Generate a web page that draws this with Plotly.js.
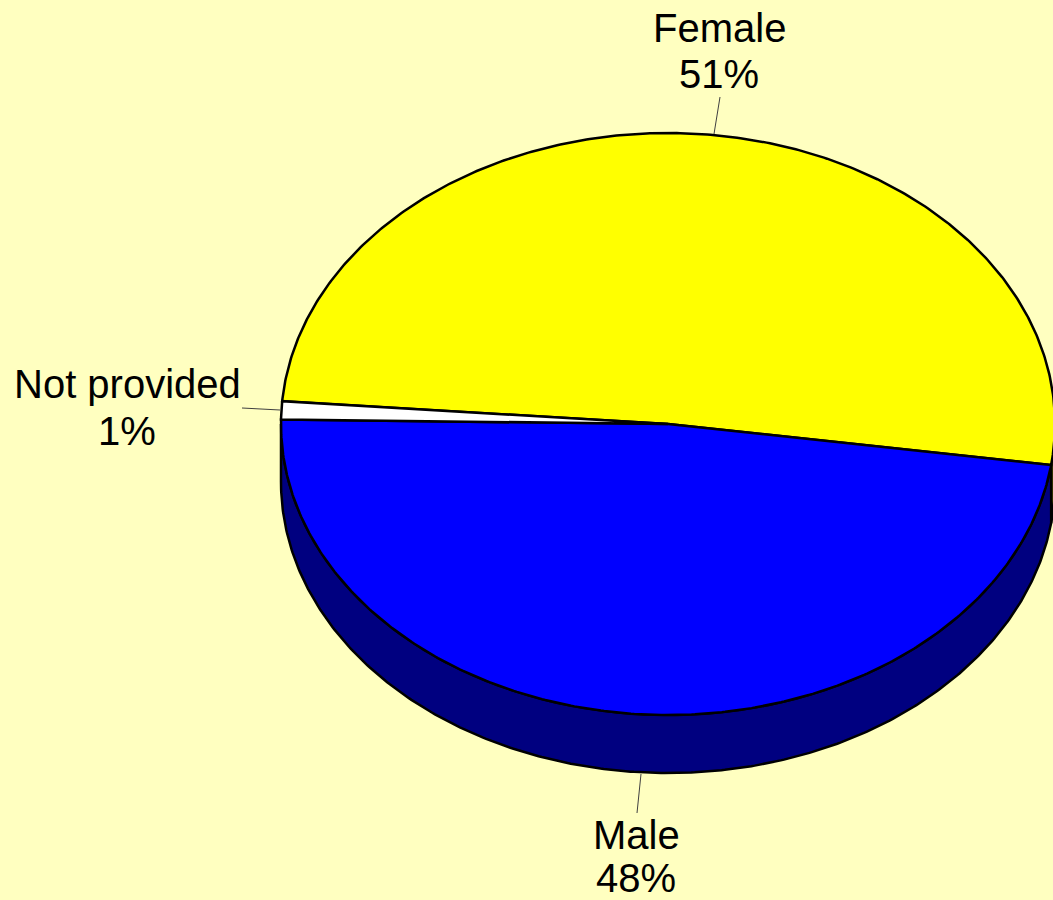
<!DOCTYPE html>
<html>
<head>
<meta charset="utf-8">
<script src="https://cdn.plot.ly/plotly-3.0.1.min.js"></script>
<style>html,body{margin:0;padding:0;background:#FFFFC0;}</style>
</head>
<body>
<div id="chart" style="width:1053px;height:900px;"></div>
<script>
// ---- data ----
const labels = ['Female', 'Male', 'Not provided'];
const values = [51, 48, 1];
const topColors = ['#FFFF00', '#0000FF', '#FFFFFF'];
const sideColors = ['#808000', '#000080', '#A0A0A0'];

// ---- geometry (layout) ----
const W = 1053, H = 900;
const CX = 668, CY = 424, RX = 387, RY = 291, DEPTH = 58;
const START = 175.5; // degrees, slices run clockwise from here
const STEP = 0.5;

function pt(deg, dy) {
  const r = deg * Math.PI / 180;
  return [CX + RX * Math.cos(r), CY - RY * Math.sin(r) + (dy || 0)];
}
function arc(from, to, dy) {
  const xs = [], ys = [];
  const n = Math.max(2, Math.ceil(Math.abs(to - from) / STEP));
  for (let i = 0; i <= n; i++) {
    const p = pt(from + (to - from) * i / n, dy);
    xs.push(p[0]); ys.push(p[1]);
  }
  return [xs, ys];
}

const total = values.reduce((a, b) => a + b, 0);
const slices = [];
let cum = 0;
values.forEach((v, i) => {
  const a0 = START - cum / total * 360;
  const a1 = a0 - v / total * 360;
  slices.push({a0, a1, i});
  cum += v;
});

const traces = [];
// side (front) walls
slices.forEach(s => {
  [-360, 0, 360].forEach(k => {
    const lo = Math.max(s.a1 + k, -180), hi = Math.min(s.a0 + k, 0);
    if (lo < hi) {
      const t = arc(lo, hi, 0), b = arc(hi, lo, DEPTH);
      const xs = t[0].concat(b[0]), ys = t[1].concat(b[1]);
      xs.push(xs[0]); ys.push(ys[0]);
      traces.push({type: 'scatter', mode: 'lines', x: xs, y: ys, fill: 'toself',
        fillcolor: sideColors[s.i], line: {color: '#000000', width: 2.5},
        hoverinfo: 'skip', showlegend: false});
    }
  });
});
// top faces
slices.forEach(s => {
  const a = arc(s.a0, s.a1, 0);
  const xs = [CX].concat(a[0], [CX]), ys = [CY].concat(a[1], [CY]);
  traces.push({type: 'scatter', mode: 'lines', x: xs, y: ys, fill: 'toself',
    fillcolor: topColors[s.i], line: {color: '#000000', width: 2.5},
    hoverinfo: 'skip', showlegend: false});
});

// label placement (layout constants)
const labelPos = [
  {x: 719, y1: 28, y2: 74, lx: [714, 720], ly: [134, 97]},
  {x: 636, y1: 835, y2: 878, lx: [641, 637], ly: [774, 813]},
  {x: 127, y1: 384, y2: 431, lx: [280, 242], ly: [410, 408]}
];
const annotations = [], shapes = [];
labels.forEach((lab, i) => {
  const p = labelPos[i];
  const pct = Math.round(values[i] / total * 100) + '%';
  [[lab, p.y1], [pct, p.y2]].forEach(([t, y]) => {
    annotations.push({x: p.x, y: y, xref: 'x', yref: 'y', text: t, showarrow: false,
      xanchor: 'center', yanchor: 'middle',
      font: {family: 'Liberation Sans, Arial, sans-serif', size: 40, color: '#000000'}});
  });
  shapes.push({type: 'line', xref: 'x', yref: 'y', x0: p.lx[0], y0: p.ly[0], x1: p.lx[1], y1: p.ly[1],
    line: {color: '#404040', width: 1}});
});

const layout = {
  width: W, height: H,
  margin: {l: 0, r: 0, t: 0, b: 0},
  paper_bgcolor: '#FFFFC0', plot_bgcolor: '#FFFFC0',
  xaxis: {range: [0, W], visible: false, fixedrange: true},
  yaxis: {range: [H, 0], visible: false, fixedrange: true},
  showlegend: false,
  annotations: annotations,
  shapes: shapes
};
Plotly.newPlot('chart', traces, layout, {staticPlot: true, displayModeBar: false});
</script>
</body>
</html>
